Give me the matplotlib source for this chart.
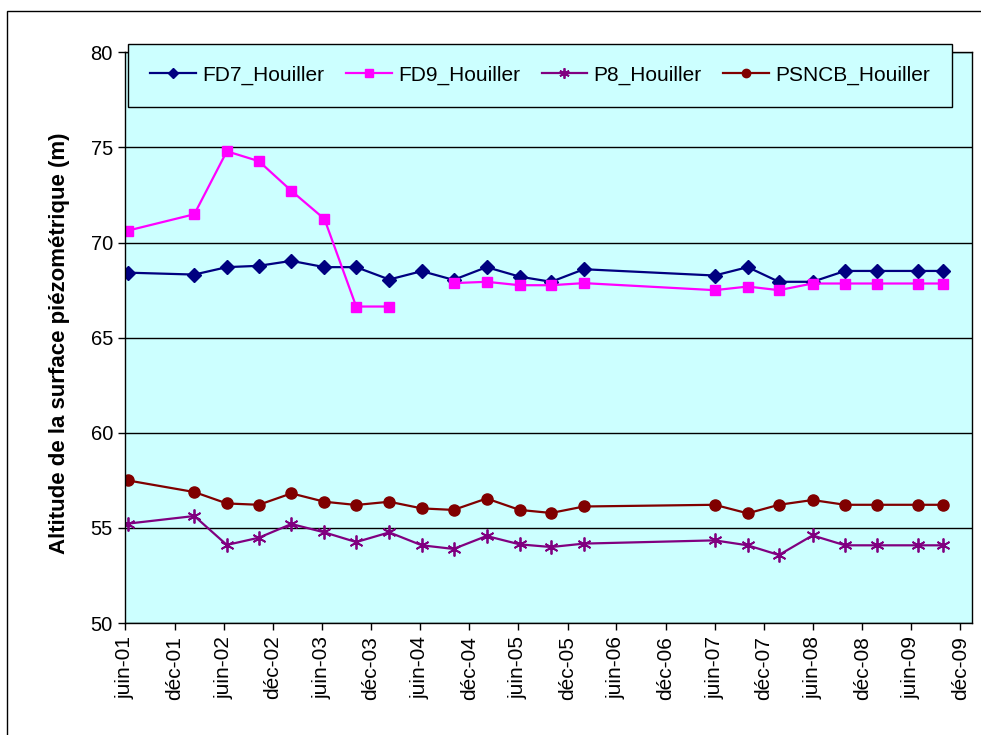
import datetime as dt
import matplotlib
matplotlib.use("Agg")
import matplotlib.pyplot as plt
from matplotlib.patches import Rectangle
import numpy as np

plt.rcParams["font.family"] = ["Liberation Sans", "DejaVu Sans"]

dates = ["2001-06-10", "2002-02-12", "2002-06-13", "2002-10-10", "2003-02-08",
         "2003-06-11", "2003-10-07", "2004-02-07", "2004-06-07", "2004-10-03",
         "2005-02-03", "2005-06-06", "2005-10-01", "2006-01-31", "2007-06-01",
         "2007-10-02", "2008-01-26", "2008-05-30", "2008-09-28", "2009-01-25",
         "2009-06-26", "2009-09-27"]

fd7 = [68.42, 68.32, 68.71, 68.78, 69.04, 68.71, 68.71, 68.06, 68.50, 68.04,
       68.71, 68.21, 67.94, 68.60, 68.27, 68.71, 67.94, 67.94, 68.51, 68.51,
       68.51, 68.51]
fd9 = [70.63, 71.49, 74.80, 74.28, 72.72, 71.24, 66.64, 66.64, None, 67.87,
       67.94, 67.76, 67.76, 67.87, 67.50, 67.69, 67.50, 67.85, 67.85, 67.85,
       67.85, 67.85]
p8 = [55.23, 55.63, 54.11, 54.49, 55.21, 54.77, 54.26, 54.77, 54.09, 53.90,
      54.58, 54.14, 54.00, 54.18, 54.35, 54.09, 53.58, 54.61, 54.09, 54.09,
      54.09, 54.09]
psncb = [57.50, 56.89, 56.29, 56.22, 56.82, 56.38, 56.21, 56.38, 56.03, 55.95,
         56.55, 55.95, 55.79, 56.13, 56.22, 55.77, 56.22, 56.47, 56.22, 56.22,
         56.22, 56.22]

series_names = ["FD7_Houiller", "FD9_Houiller", "P8_Houiller", "PSNCB_Houiller"]

x = [dt.datetime.strptime(d, "%Y-%m-%d") for d in dates]

fig = plt.figure(figsize=(9.81, 7.35), dpi=100)
fig.patches.append(Rectangle((0.0076, -0.05), 1.2, 1.035, transform=fig.transFigure,
                             fill=False, edgecolor="black", linewidth=1.0))
ax = fig.add_axes([0.1279, 0.1522, 0.8629, 0.7766])
ax.set_facecolor("#CCFFFF")

styles = [
    dict(color="#000080", marker="D", markersize=7),
    dict(color="#FF00FF", marker="s", markersize=7.5),
    dict(color="#800080", marker=(6, 2, 0), markersize=10, markeredgewidth=1.3),
    dict(color="#800000", marker="o", markersize=8),
]
for name, vals, st in zip(series_names, [fd7, fd9, p8, psncb], styles):
    y = np.array([np.nan if v is None else v for v in vals], dtype=float)
    ax.plot(x, y, linewidth=1.6, label=name, **st)

ax.set_ylim(50, 80)
ax.set_yticks(np.arange(50, 81, 5))
ax.set_xlim(dt.datetime(2001, 6, 1), dt.datetime(2010, 1, 13))

# graduations tous les 6 mois
ticks = []
for yr in range(2001, 2010):
    ticks.append(dt.datetime(yr, 6, 1))
    ticks.append(dt.datetime(yr, 12, 1))
ax.set_xticks(ticks)
mois = {6: "juin", 12: "déc"}
ax.set_xticklabels([f"{mois[t.month]}-{t.strftime('%y')}" for t in ticks], rotation=90)

ax.grid(axis="y", color="black", linewidth=1.0)
ax.set_axisbelow(True)
for s in ax.spines.values():
    s.set_color("black")
    s.set_linewidth(1.0)
ax.tick_params(axis="y", labelsize=14.5, direction="out", length=5, width=1, pad=4)
ax.tick_params(axis="x", labelsize=15, direction="out", length=5, width=1, pad=4)
ax.set_ylabel("Altitude de la surface piézométrique (m)", fontsize=16,
              fontweight="bold")
ax.yaxis.set_label_coords(-0.066, 0.49)

leg = fig.legend(loc="center", bbox_to_anchor=(0.1308, 0.8544, 0.8397, 0.087),
                 mode="expand", ncol=4, fontsize=15, frameon=True, fancybox=False,
                 handlelength=2.2, handletextpad=0.3, borderaxespad=0,
                 borderpad=1.05, markerscale=0.75)
leg.get_frame().set_facecolor("#CCFFFF")
leg.get_frame().set_edgecolor("black")
leg.get_frame().set_alpha(1)

fig.savefig("out.png", dpi=100)
